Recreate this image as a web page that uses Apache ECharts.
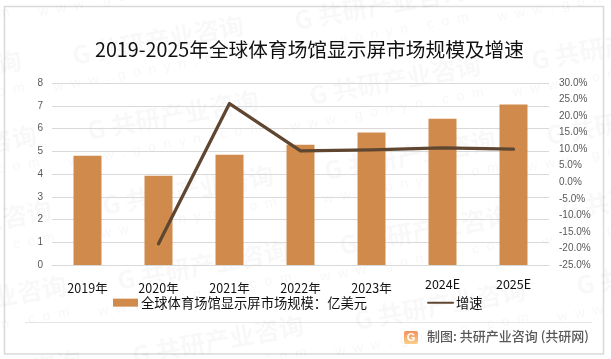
<!DOCTYPE html>
<html lang="en" style="height: 100%">
<head>
<meta charset="utf-8">
<title>全球体育场馆显示屏市场规模及增速</title>
</head>
<body style="height: 100%; margin: 0; background: #fff">
<div id="container" style="width: 611px; height: 359px"></div>

<script type="text/javascript" src="https://cdn.jsdelivr.net/npm/echarts/dist/echarts.min.js"></script>
<script type="text/javascript">
var categories = ['2019年', '2020年', '2021年', '2022年', '2023年', '2024E', '2025E'];
var marketSize = [4.8, 3.92, 4.85, 5.29, 5.82, 6.43, 7.06];
var growth = [null, -18.6, 23.8, 9.5, 9.8, 10.4, 10.0];

var cjk = '"Noto Sans CJK SC", "Noto Sans", sans-serif';
var tickFont = '"Liberation Sans", Arial, sans-serif';

var myChart = echarts.init(document.getElementById('container'), null, { width: 611, height: 359 });

// faint site watermark, repeated on a slanted lattice
var watermark = [];
for (var i = -2; i < 4; i++) {
    for (var j = -1; j < 5; j++) {
        var wx = 173 + i * 222 + (j - 1) * 15;
        var wy = 115 - i * 35 + (j - 1) * 75;
        if (wx < -120 || wx > 720 || wy < -40 || wy > 400) continue;
        watermark.push({
            type: 'text', x: wx, y: wy, rotation: 0.18, z: -1,
            style: {
                text: 'G 共研产业咨询', font: 'bold 25px ' + cjk,
                fill: 'rgba(0,0,0,0.028)', align: 'center', verticalAlign: 'middle'
            }
        });
        watermark.push({
            type: 'text', x: wx - 8, y: wy + 30, rotation: 0.18, z: -1,
            style: {
                text: 'w  w  w  .  g  o  n  y  n  .  c  o  m', font: '14px ' + tickFont,
                fill: 'rgba(0,0,0,0.035)', align: 'center', verticalAlign: 'middle'
            }
        });
    }
}

var option = {
    animation: false,
    backgroundColor: '#fff',
    title: {
        text: '2019-2025年全球体育场馆显示屏市场规模及增速',
        left: 90,
        top: 35,
        textStyle: { fontFamily: cjk, fontSize: 19.7, fontWeight: 'normal', color: '#111' }
    },
    legend: {
        left: 108,
        top: 291,
        itemWidth: 25,
        itemHeight: 8,
        itemGap: 60,
        textStyle: { fontFamily: cjk, fontSize: 13.3, color: '#111', padding: [0, 0, 0, -2] },
        data: [
            { name: '全球体育场馆显示屏市场规模\uff1a亿美元', icon: 'rect' },
            { name: '增速', itemStyle: { opacity: 0 } }
        ]
    },
    grid: { left: 52, right: 62, top: 83, height: 182 },
    xAxis: {
        type: 'category',
        data: categories,
        axisLine: { lineStyle: { color: '#d9d9d9', width: 1 } },
        axisTick: { show: false },
        axisLabel: {
            margin: 13, interval: 0, fontFamily: cjk, fontSize: 12.5, color: '#111',
            // the year labels sit a little lower than the two forecast labels
            formatter: function (c) { return /E$/.test(c) ? '{e|' + c + '}' : '{y|' + c + '}'; },
            rich: {
                y: { fontFamily: cjk, fontSize: 12.5, color: '#111', padding: [4, 0, 0, 0] },
                e: { fontFamily: cjk, fontSize: 12.5, color: '#111' }
            }
        }
    },
    yAxis: [
        {
            type: 'value', min: 0, max: 8, interval: 1,
            axisLine: { show: false },
            axisTick: { show: false },
            splitLine: { lineStyle: { color: '#d9d9d9', width: 1 } },
            axisLabel: { margin: 9, fontFamily: tickFont, fontSize: 10, color: '#595959' }
        },
        {
            type: 'value', min: -25, max: 30, interval: 5,
            axisLine: { show: false },
            axisTick: { show: false },
            splitLine: { show: false },
            axisLabel: {
                margin: 10, fontFamily: tickFont, fontSize: 10, color: '#595959',
                formatter: function (v) { return v.toFixed(1) + '%'; }
            }
        }
    ],
    series: [
        {
            name: '全球体育场馆显示屏市场规模\uff1a亿美元',
            type: 'bar',
            data: marketSize,
            barWidth: 28,
            itemStyle: { color: '#d08b4c' }
        },
        {
            name: '增速',
            type: 'line',
            yAxisIndex: 1,
            data: growth,
            symbol: 'none',
            lineStyle: { color: '#5f4630', width: 3.3, cap: 'round', join: 'round' },
            itemStyle: { color: '#5f4630' }
        }
    ],
    graphic: watermark.concat([
        {
            type: 'rect', z: -2,
            shape: { x: 4.5, y: 6.5, width: 599, height: 347.5 },
            style: { fill: 'none', stroke: '#d9d9d9', lineWidth: 1.5 }
        },
        {
            type: 'line', z: -2,
            shape: { x1: 25, y1: 322.5, x2: 592, y2: 322.5 },
            style: { stroke: '#e6e6e6', lineWidth: 1 }
        },
        {
            type: 'rect',
            shape: { x: 404, y: 331, width: 14, height: 13, r: 2 },
            style: {
                fill: new echarts.graphic.LinearGradient(0, 0, 0, 1, [
                    { offset: 0, color: '#f2905a' },
                    { offset: 1, color: '#fbd08a' }
                ])
            }
        },
        {
            type: 'text', x: 411, y: 337.5,
            style: { text: 'G', font: 'bold 11px ' + tickFont, fill: '#fff', align: 'center', verticalAlign: 'middle' }
        },
        {
            type: 'text', x: 427, y: 336,
            style: {
                text: '制图: 共研产业咨询 (共研网)', font: '500 13px ' + cjk,
                fill: '#595959', align: 'left', verticalAlign: 'middle'
            }
        }
    ])
};

myChart.setOption(option);
window.addEventListener('resize', myChart.resize);
</script>
</body>
</html>
